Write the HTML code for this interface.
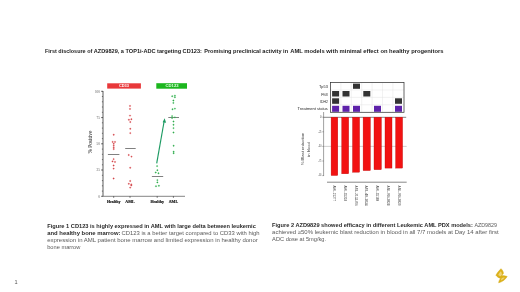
<!DOCTYPE html>
<html><head><meta charset="utf-8">
<style>
html,body{margin:0;padding:0;background:#fff;}
body{width:520px;height:292px;overflow:hidden;position:relative;}
svg{position:absolute;left:0;top:0;will-change:transform;}
.s{font-family:"Liberation Sans",sans-serif;}
.r{font-family:"Liberation Serif",serif;}
</style></head><body>
<svg width="520" height="292" viewBox="0 0 520 292">
<!-- Title -->
<g class="s" font-size="6.1" font-weight="bold" fill="#222">
<text x="45" y="52.6" textLength="47.3" lengthAdjust="spacingAndGlyphs">First disclosure of</text>
<text x="93.8" y="52.6" textLength="108.1" lengthAdjust="spacingAndGlyphs">AZD9829, a TOP1i-ADC targeting CD123:</text>
<text x="204.2" y="52.6" textLength="83.9" lengthAdjust="spacingAndGlyphs">Promising preclinical activity in</text>
<text x="290.2" y="52.6" textLength="153.3" lengthAdjust="spacingAndGlyphs">AML models with minimal effect on healthy progenitors</text>
</g>

<!-- ===== Left chart ===== -->
<rect x="107.2" y="83.3" width="33.7" height="5.3" fill="#e8383a"/>
<text class="s" x="123.9" y="87.4" font-size="3.6" font-weight="bold" fill="#fff" text-anchor="middle" textLength="10" lengthAdjust="spacingAndGlyphs">CD33</text>
<rect x="156.3" y="83.2" width="30.7" height="5.5" fill="#1cb61e"/>
<text class="s" x="172.1" y="87.4" font-size="3.6" font-weight="bold" fill="#e8ffe8" text-anchor="middle" textLength="13" lengthAdjust="spacingAndGlyphs">CD123</text>

<!-- axes -->
<g stroke="#333" stroke-width="0.8" fill="none">
<path d="M103 91 V196.3"/>
<path d="M103 196.3 H185" stroke="#666"/>
<path d="M101.2 91.3H103 M101.2 117.6H103 M101.2 143.8H103 M101.2 170H103 M101.2 196.3H103" />
<path d="M113.7 196.3v1.4 M130 196.3v1.4 M157.2 196.3v1.4 M173.4 196.3v1.4"/>
</g>
<g stroke="#333" stroke-width="0.6">
<path d="M101.9 96.5H103 M101.9 101.8H103 M101.9 107H103 M101.9 112.3H103 M101.9 122.8H103 M101.9 128.1H103 M101.9 133.3H103 M101.9 138.6H103 M101.9 149.1H103 M101.9 154.3H103 M101.9 159.6H103 M101.9 164.8H103 M101.9 175.3H103 M101.9 180.6H103 M101.9 185.8H103 M101.9 191.1H103"/>
</g>
<g class="r" font-size="3.4" fill="#555" text-anchor="end">
<text x="100" y="92.6">100</text>
<text x="100" y="118.9">75</text>
<text x="100" y="145.1">50</text>
<text x="100" y="171.3">25</text>
<text x="100" y="197.6">0</text>
</g>
<text class="r" transform="translate(92.4 142.1) rotate(-90)" font-size="5.7" fill="#222" text-anchor="middle" textLength="23" lengthAdjust="spacingAndGlyphs">% Positive</text>
<g class="r" font-size="4" font-weight="bold" fill="#111" stroke="#111" stroke-width="0.15" text-anchor="middle">
<text x="113.7" y="202.7">Healthy</text>
<text x="130" y="202.7">AML</text>
<text x="157.2" y="202.7">Healthy</text>
<text x="173.4" y="202.7">AML</text>
</g>

<!-- mean lines -->
<g stroke="#3a3a3a" stroke-width="0.65">
<path d="M107.9 154.5H119.4"/>
<path d="M125.2 148.5H135.7"/>
<path d="M151.9 176.5H163.2"/>
<path d="M168.3 117.5H179"/>
</g>

<!-- CD33 dots -->
<g fill="#b23a44" stroke="#f26060" stroke-width="0.4">
<circle cx="113.7" cy="134.7" r="0.68"/>
<circle cx="112.6" cy="141.9" r="0.68"/>
<circle cx="115" cy="141.9" r="0.68"/>
<circle cx="113.7" cy="143.8" r="0.68"/>
<circle cx="113.7" cy="145.7" r="0.68"/>
<circle cx="113.7" cy="147.7" r="0.68"/>
<circle cx="113.7" cy="149.1" r="0.68"/>
<circle cx="113.6" cy="159.1" r="0.68"/>
<circle cx="112.5" cy="161.4" r="0.68"/>
<circle cx="115" cy="161.9" r="0.68"/>
<circle cx="113.6" cy="165.5" r="0.68"/>
<circle cx="113.6" cy="168.6" r="0.68"/>
<circle cx="113.6" cy="178.5" r="0.68"/>

<circle cx="130" cy="105.9" r="0.68"/>
<circle cx="130" cy="108.9" r="0.68"/>
<circle cx="130" cy="115.6" r="0.68"/>
<circle cx="131.4" cy="119.2" r="0.68"/>
<circle cx="128.9" cy="119.7" r="0.68"/>
<circle cx="130.3" cy="122" r="0.68"/>
<circle cx="130.3" cy="128.8" r="0.68"/>
<circle cx="130.3" cy="133.1" r="0.68"/>
<circle cx="128.7" cy="155" r="0.68"/>
<circle cx="131.5" cy="156.6" r="0.68"/>
<circle cx="130.2" cy="167.7" r="0.68"/>
<circle cx="130.2" cy="181" r="0.68"/>
<circle cx="128.8" cy="183.8" r="0.68"/>
<circle cx="131.3" cy="184.4" r="0.68"/>
<circle cx="131.3" cy="185.4" r="0.68"/>
<circle cx="130.2" cy="187.6" r="0.68"/>
</g>
<!-- CD123 dots -->
<g fill="#2a8040" stroke="#4ad86a" stroke-width="0.4">
<circle cx="157.1" cy="166.1" r="0.68"/>
<circle cx="157.4" cy="170.2" r="0.68"/>
<circle cx="155.7" cy="172.5" r="0.68"/>
<circle cx="158.5" cy="173.3" r="0.68"/>
<circle cx="157.4" cy="180.1" r="0.68"/>
<circle cx="157.4" cy="182.4" r="0.68"/>
<circle cx="156" cy="186.3" r="0.68"/>
<circle cx="158.9" cy="185.7" r="0.68"/>

<circle cx="172.2" cy="96.3" r="0.68"/>
<circle cx="174.9" cy="95.6" r="0.68"/>
<circle cx="174.9" cy="97.3" r="0.68"/>
<circle cx="173.4" cy="100.5" r="0.68"/>
<circle cx="173.4" cy="102.9" r="0.68"/>
<circle cx="172.5" cy="109.3" r="0.68"/>
<circle cx="174.9" cy="108.6" r="0.68"/>
<circle cx="172.1" cy="116.1" r="0.68"/>
<circle cx="172.1" cy="118" r="0.68"/>
<circle cx="174.9" cy="117.4" r="0.68"/>
<circle cx="173.5" cy="121.5" r="0.68"/>
<circle cx="173.5" cy="124.8" r="0.68"/>
<circle cx="173.5" cy="128.1" r="0.68"/>
<circle cx="173.5" cy="132.5" r="0.68"/>
<circle cx="173.6" cy="145.7" r="0.68"/>
<circle cx="173.6" cy="151.7" r="0.68"/>
<circle cx="173.6" cy="153.2" r="0.68"/>
</g>
<!-- arrow -->
<path d="M156.7 163.3 L164.1 121.5" stroke="#1c9a62" stroke-width="1.15" fill="none"/>
<path d="M164.6 118.3 L166.1 122.7 L162.6 122.2 Z" fill="#1c9a62"/>

<!-- ===== Right chart ===== -->
<g class="s" font-size="3.9" fill="#222" text-anchor="end">
<text x="327.8" y="88.3" textLength="8.8" lengthAdjust="spacingAndGlyphs">Tp53</text>
<text x="327.8" y="96.1" textLength="6.6" lengthAdjust="spacingAndGlyphs">Flt3</text>
<text x="327.8" y="102.7" textLength="7.8" lengthAdjust="spacingAndGlyphs">IDH2</text>
<text x="327.8" y="110.1" textLength="30.2" lengthAdjust="spacingAndGlyphs">Treatment status</text>
</g>
<!-- heatmap grid -->
<g stroke="#ddd" stroke-width="0.4">
<path d="M340.9 82.5V112.3 M351.3 82.5V112.3 M361.7 82.5V112.3 M372.1 82.5V112.3 M382.5 82.5V112.3 M392.9 82.5V112.3"/>
<path d="M330.4 90H404 M330.4 97.4H404 M330.4 104.8H404"/>
</g>
<g fill="#333">
<rect x="353" y="83.6" width="7" height="5.2"/>
<rect x="332.1" y="91" width="7" height="5.5"/>
<rect x="342.5" y="91" width="7" height="5.5"/>
<rect x="363.3" y="91" width="7" height="5.5"/>
<rect x="332.1" y="98.3" width="7" height="5.5"/>
<rect x="395" y="98.3" width="7" height="5.5"/>
</g>
<g fill="#5e22aa">
<rect x="332.1" y="105.8" width="7" height="6"/>
<rect x="342.5" y="105.8" width="7" height="6"/>
<rect x="353" y="105.8" width="7" height="6"/>
<rect x="374" y="105.8" width="7" height="6"/>
<rect x="395" y="105.8" width="7" height="6"/>
</g>
<rect x="330.4" y="82.6" width="73.6" height="29.7" fill="none" stroke="#333" stroke-width="0.75"/>

<!-- bar axis -->
<g stroke="#444" stroke-width="0.5" fill="none">
<path d="M323.6 112V176"/>
<path d="M322.4 117.2H323.6 M322.4 131.8H323.6 M322.4 146.4H323.6 M322.4 161H323.6 M322.4 175.6H323.6"/>
</g>
<path d="M323.6 117.3H406.2" stroke="#333" stroke-width="0.6"/>
<path d="M323.6 146.4H406.7" stroke="#888" stroke-width="0.4"/>
<g fill="#f21212" stroke="#b80808" stroke-width="0.35">
<rect x="331.1" y="117.2" width="6.7" height="58.3"/>
<rect x="341.7" y="117.2" width="7" height="56.6"/>
<rect x="352.5" y="117.2" width="7.1" height="55"/>
<rect x="363.1" y="117.2" width="7.3" height="53.4"/>
<rect x="374" y="117.2" width="7.4" height="52.5"/>
<rect x="385" y="117.2" width="7" height="50.9"/>
<rect x="395.6" y="117.2" width="7" height="50.9"/>
</g>
<g class="s" font-size="2.6" fill="#333" text-anchor="end">
<text x="321.4" y="118.1">0</text>
<text x="321.4" y="132.9" textLength="2.8" lengthAdjust="spacingAndGlyphs">-25</text>
<text x="321.4" y="147.2" textLength="3" lengthAdjust="spacingAndGlyphs">-50</text>
<text x="321.4" y="161.5" textLength="2.8" lengthAdjust="spacingAndGlyphs">-75</text>
<text x="321.4" y="176.1" textLength="3" lengthAdjust="spacingAndGlyphs">-100</text>
</g>
<g class="s" font-size="4.2" fill="#3a3a3a" text-anchor="middle">
<text transform="translate(304.4 149.1) rotate(-90)" textLength="32.4" lengthAdjust="spacingAndGlyphs">% Blast reduction</text>
<text transform="translate(309.9 149.5) rotate(-90)" textLength="14.4" lengthAdjust="spacingAndGlyphs">in blood</text>
</g>
<path d="M327 182.2H406.7" stroke="#555" stroke-width="0.7"/>
<g class="s" font-size="3.3" fill="#444">
<text transform="translate(332.7 185.6) rotate(90)" textLength="15.6" lengthAdjust="spacingAndGlyphs">AML-21277</text>
<text transform="translate(343.79999999999995 185.6) rotate(90)" textLength="15.6" lengthAdjust="spacingAndGlyphs">AML-35324</text>
<text transform="translate(354.7 185.6) rotate(90)" textLength="20" lengthAdjust="spacingAndGlyphs">AML-2133-KB</text>
<text transform="translate(365.29999999999995 185.6) rotate(90)" textLength="20" lengthAdjust="spacingAndGlyphs">AML-4B-2038</text>
<text transform="translate(376.0 185.6) rotate(90)" textLength="15.6" lengthAdjust="spacingAndGlyphs">AML-35188</text>
<text transform="translate(386.9 185.6) rotate(90)" textLength="20" lengthAdjust="spacingAndGlyphs">AML-RB-2038</text>
<text transform="translate(397.79999999999995 185.6) rotate(90)" textLength="20" lengthAdjust="spacingAndGlyphs">AML-RB-2039</text>
</g>

<!-- Captions -->
<g class="s" font-size="5.6">
<text x="47.2" y="227.6" font-weight="bold" fill="#2a2a2a" textLength="208.6" lengthAdjust="spacingAndGlyphs">Figure 1 CD123 is highly expressed in AML with large delta between leukemic</text>
<text x="47.2" y="234.6" font-weight="bold" fill="#2a2a2a" textLength="73.3" lengthAdjust="spacingAndGlyphs">and healthy bone marrow:</text>
<text x="121.6" y="234.6" fill="#5a5a5a" textLength="138" lengthAdjust="spacingAndGlyphs">CD123 is a better target compared  to CD33 with high</text>
<text x="47.2" y="241.7" fill="#5a5a5a" textLength="210.6" lengthAdjust="spacingAndGlyphs">expression in AML patient bone marrow  and limited expression in healthy donor</text>
<text x="47.2" y="248.7" fill="#5a5a5a" textLength="33.2" lengthAdjust="spacingAndGlyphs">bone marrow</text>

<text x="272.1" y="226.8" font-weight="bold" fill="#2a2a2a" textLength="200.7" lengthAdjust="spacingAndGlyphs">Figure 2 AZD9829 showed efficacy in different Leukemic AML PDX models:</text>
<text x="474.4" y="226.8" fill="#5a5a5a" textLength="22.6" lengthAdjust="spacingAndGlyphs">AZD9829</text>
<text x="272.1" y="233.8" fill="#5a5a5a" textLength="226.5" lengthAdjust="spacingAndGlyphs">achieved ≥50% leukemic blast reduction in blood in all 7/7 models at Day 14 after first</text>
<text x="272.1" y="240.8" fill="#5a5a5a" textLength="54" lengthAdjust="spacingAndGlyphs">ADC dose at 5mg/kg.</text>
</g>

<!-- page num -->
<text class="s" x="14.6" y="283.9" font-size="5.6" fill="#555">1</text>

<!-- logo -->
<path d="M501 268.7 C502.6 270.2 503.6 272 503.4 273.6 L501.6 275.6 C503.6 275.7 505.6 275.9 507.2 276.5 C505.6 279.4 502.2 281.9 498.7 282.8 C498.8 281.2 499.6 279.6 500.6 278.4 C498.8 277.9 497 276.8 495.9 275.2 C497.2 272.8 499 270.6 501 268.7 Z" fill="#dcb21a" stroke="#d2a610" stroke-width="0.5" stroke-linejoin="round"/>
<path d="M500.9 271.2 C499.6 272.6 498.6 273.9 498.2 275 C499 275.6 499.8 276 500.6 276.2 L502 274.5 C501.8 273.3 501.5 272.2 500.9 271.2 Z" fill="#efd37a"/>
<path d="M504.8 277.4 C503.3 277.4 502.1 277.6 501.5 278.4 C501.2 279.2 501 279.8 500.9 280.4 C502.5 279.6 503.8 278.6 504.8 277.4 Z" fill="#efd37a"/>
</svg>
</body></html>
